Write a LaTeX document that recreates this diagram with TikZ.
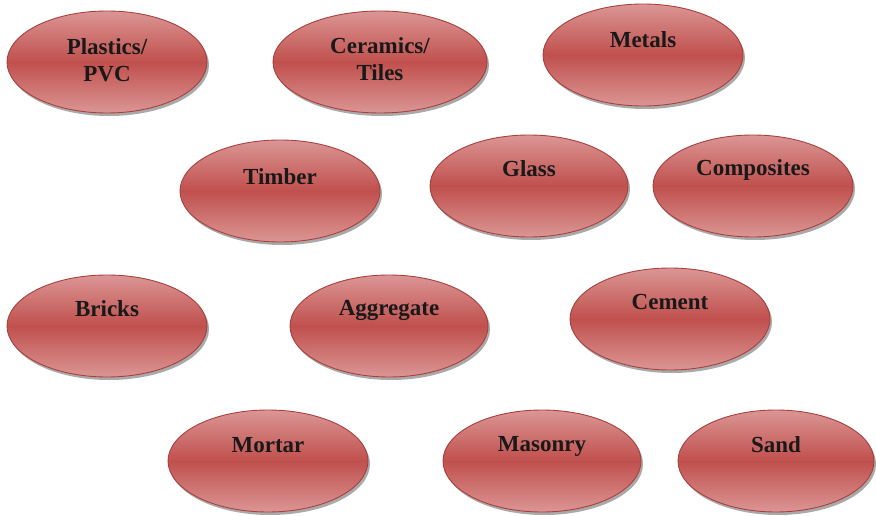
\documentclass[tikz,border=0pt]{standalone}
\usepackage{fontspec}
\setmainfont{Liberation Serif}
\usetikzlibrary{shapes.geometric,shadows}
\definecolor{redmid}{HTML}{C0504D}
\definecolor{redlight}{HTML}{DB9695}
\definecolor{rededge}{HTML}{A8403D}
\tikzset{
  ell/.style={ellipse, minimum width=200pt, minimum height=102pt, inner sep=0pt,
    draw=rededge, line width=0.9pt,
    top color=redlight, bottom color=redlight, middle color=redmid,
    drop shadow={shadow xshift=2pt, shadow yshift=-3pt, fill=black!75, opacity=0.45}},
  lbl/.style={font=\fontsize{23}{27}\selectfont\bfseries, text=black!90, align=center, inner sep=0pt}
}
\begin{document}
\begin{tikzpicture}[x=1pt,y=-1pt]
\useasboundingbox (0,0) rectangle (876,516);
% row 1
\node[ell] (plastics) at (107,62) {};
\node[lbl] at ([yshift=2pt]plastics.center) {Plastics/\\PVC};
\node[ell, minimum width=214pt] (ceramics) at (380,62) {};
\node[lbl] at ([yshift=3pt]ceramics.center) {Ceramics/\\Tiles};
\node[ell] (metals) at (643,55) {};
\node[lbl] at ([yshift=15pt]metals.center) {Metals};
% row 2
\node[ell] (timber) at (280,191) {};
\node[lbl] at ([yshift=14pt]timber.center) {Timber};
\node[ell, minimum width=198pt] (glass) at (529,186) {};
\node[lbl] at ([yshift=17pt]glass.center) {Glass};
\node[ell] (composites) at (753,186) {};
\node[lbl] at ([yshift=16pt]composites.center) {Composites};
% row 3
\node[ell] (bricks) at (107,326) {};
\node[lbl] at ([yshift=17pt]bricks.center) {Bricks};
\node[ell, minimum width=198pt] (aggregate) at (389,326) {};
\node[lbl] at ([yshift=16pt]aggregate.center) {Aggregate};
\node[ell] (cement) at (670,319) {};
\node[lbl] at ([yshift=17pt]cement.center) {Cement};
% row 4
\node[ell] (mortar) at (268,461) {};
\node[lbl] at ([yshift=16pt]mortar.center) {Mortar};
\node[ell, minimum width=198pt] (masonry) at (542,461) {};
\node[lbl] at ([yshift=15pt]masonry.center) {Masonry};
\node[ell, minimum width=196pt] (sand) at (776,461) {};
\node[lbl] at ([yshift=16pt]sand.center) {Sand};
\end{tikzpicture}
\end{document}
